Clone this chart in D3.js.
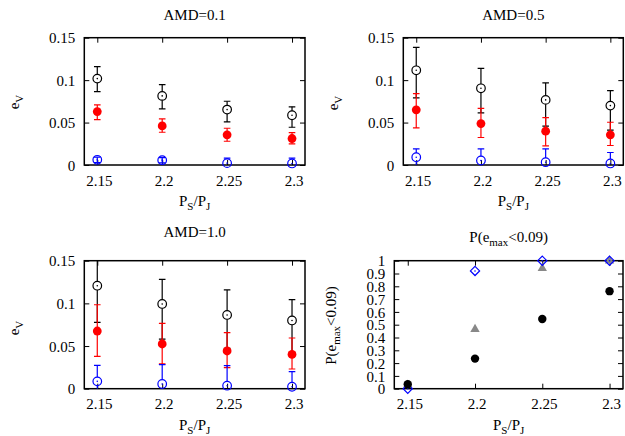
<!DOCTYPE html>
<html>
<head>
<meta charset="utf-8">
<script src="https://cdn.jsdelivr.net/npm/d3@7/dist/d3.min.js"></script>
<style>
  body { margin: 0; background: #fff; }
  svg, svg text { font-family: "Liberation Serif", "DejaVu Serif", serif !important; }
</style>
</head>
<body>
<div id="chart"></div>
<script>
// x categories (period ratio)
const psRatio = [2.15, 2.2, 2.25, 2.3];
const xTickLabels = ["2.15", "2.2", "2.25", "2.3"];
const eTicks = [0, 0.05, 0.1, 0.15];
const eTickLabels = ["0", "0.05", "0.1", "0.15"];
const pTicks = [0, 0.1, 0.2, 0.3, 0.4, 0.5, 0.6, 0.7, 0.8, 0.9, 1];
const pTickLabels = ["0", "0.1", "0.2", "0.3", "0.4", "0.5", "0.6", "0.7", "0.8", "0.9", "1"];

// [mean, low, high] for each ratio
const amd01Black = [[0.1018, 0.0865, 0.1159], [0.0814, 0.0661, 0.0947], [0.0653, 0.0508, 0.0751], [0.0586, 0.0445, 0.0685]];
const amd01Red   = [[0.0629, 0.0535, 0.0708], [0.0461, 0.0386, 0.0543], [0.0355, 0.0280, 0.0433], [0.0312, 0.0249, 0.0382]];
const amd01Blue  = [[0.0061, 0.0027, 0.0092], [0.0057, 0.0026, 0.0088], [0.0022, -0.0040, 0.0080], [0.0018, -0.0040, 0.0080]];

const amd05Black = [[0.1116, 0.0790, 0.1386], [0.0904, 0.0614, 0.1139], [0.0767, 0.0457, 0.0967], [0.0700, 0.0410, 0.0876]];
const amd05Red   = [[0.0650, 0.0437, 0.0841], [0.0488, 0.0324, 0.0668], [0.0398, 0.0226, 0.0559], [0.0355, 0.0230, 0.0504]];
const amd05Blue  = [[0.0092, -0.0006, 0.0190], [0.0053, -0.0080, 0.0190], [0.0033, -0.0120, 0.0190], [0.0018, -0.0110, 0.0147]];

const amd10Black = [[0.1207, 0.0777, 0.1640], [0.0993, 0.0582, 0.1280], [0.0864, 0.0473, 0.1157], [0.0800, 0.0422, 0.1043]];
const amd10Red   = [[0.0676, 0.0379, 0.0984], [0.0524, 0.0290, 0.0765], [0.0442, 0.0246, 0.0656], [0.0402, 0.0231, 0.0594]];
const amd10Blue  = [[0.0086, -0.0100, 0.0273], [0.0055, -0.0170, 0.0281], [0.0035, -0.0200, 0.0270], [0.0023, -0.0154, 0.0200]];

// probability panel
const probCircle   = [0.035, 0.235, 0.545, 0.762];
const probTriangle = [0.03, 0.465, 0.94, 1.0];
const probDiamond  = [0.0, 0.92, 1.0, 1.0];

const svg = d3.select("#chart").append("svg")
    .attr("width", 625)
    .attr("height", 436);

let clipId = 0;

function makePanel(box) {
    const x = d3.scaleLinear().domain([2.14, 2.31]).range([box.left, box.right]);
    const y = d3.scaleLinear().domain(box.yDomain).range([box.bottom, box.top]);
    const g = svg.append("g");

    const id = "clip" + (clipId++);
    svg.append("clipPath").attr("id", id)
        .append("rect")
        .attr("x", box.left).attr("y", box.top)
        .attr("width", box.right - box.left).attr("height", box.bottom - box.top);

    const tickFmt = (vals, labels) => (d) => labels[vals.indexOf(d)];

    // inward ticks on all four sides
    const left = g.append("g").attr("transform", "translate(" + box.left + ",0)")
        .call(d3.axisLeft(y).tickValues(box.yTicks).tickFormat(tickFmt(box.yTicks, box.yLabels)).tickSize(-5).tickPadding(9));
    g.append("g").attr("transform", "translate(" + box.right + ",0)")
        .call(d3.axisRight(y).tickValues(box.yTicks).tickFormat("").tickSize(-5));
    const bottom = g.append("g").attr("transform", "translate(0," + box.bottom + ")")
        .call(d3.axisBottom(x).tickValues(psRatio).tickFormat(tickFmt(psRatio, xTickLabels)).tickSize(-5).tickPadding(10));
    g.append("g").attr("transform", "translate(0," + box.top + ")")
        .call(d3.axisTop(x).tickValues(psRatio).tickFormat("").tickSize(-5));

    g.selectAll("g").attr("font-family", null).attr("font-size", null);
    g.selectAll(".domain").remove();
    g.selectAll(".tick line").attr("stroke", "#000").attr("stroke-width", 1);
    g.selectAll(".tick text").style("font-size", "15px").attr("fill", "#000");
    bottom.selectAll(".tick text").attr("dx", 1.5);
    left.selectAll(".tick text").attr("dy", "0.34em");

    g.append("rect")
        .attr("x", box.left).attr("y", box.top)
        .attr("width", box.right - box.left).attr("height", box.bottom - box.top)
        .attr("fill", "none").attr("stroke", "#000").attr("stroke-width", 1.5);

    const cx = (box.left + box.right) / 2;

    // x label  P_S/P_J
    const xl = g.append("text").attr("x", cx).attr("y", box.bottom + 41)
        .attr("text-anchor", "middle").attr("font-size", 15);
    xl.append("tspan").text("P");
    xl.append("tspan").text("S").attr("font-size", 11).attr("dy", 4);
    xl.append("tspan").text("/P").attr("dy", -4);
    xl.append("tspan").text("J").attr("font-size", 11).attr("dy", 4);

    return {g: g, x: x, y: y, clip: "url(#" + id + ")", cx: cx};
}

function ylabelE(p, lx, ly) {
    const t = p.g.append("text")
        .attr("transform", "translate(" + lx + "," + ly + ") rotate(-90)")
        .attr("text-anchor", "middle").attr("font-size", 15);
    t.append("tspan").text("e");
    t.append("tspan").text("V").attr("font-size", 11).attr("dy", 4);
}

function title(p, ty, txt) {
    p.g.append("text").attr("x", p.cx).attr("y", ty)
        .attr("text-anchor", "middle").attr("font-size", 15).text(txt);
}

function errSeries(p, data, color, filled) {
    const r = filled ? 4.4 : 4.3;
    const bars = p.g.append("g").attr("clip-path", p.clip)
        .attr("stroke", color).attr("stroke-width", 1.2);
    data.forEach(function(d, i) {
        const px = p.x(psRatio[i]);
        const cy = p.y(d[0]), yl = p.y(d[1]), yh = p.y(d[2]);
        if (filled) {
            bars.append("line").attr("x1", px).attr("x2", px).attr("y1", yl).attr("y2", yh);
        } else {
            // bar is hidden inside the open circle
            const up0 = (cy - yh > r) ? cy - r : cy;
            bars.append("line").attr("x1", px).attr("x2", px).attr("y1", up0).attr("y2", yh);
            const lo0 = (yl - cy > r) ? cy + r : cy;
            bars.append("line").attr("x1", px).attr("x2", px).attr("y1", lo0).attr("y2", yl);
        }
        [yl, yh].forEach(function(yy) {
            bars.append("line").attr("x1", px - 3.3).attr("x2", px + 3.3).attr("y1", yy).attr("y2", yy);
        });
    });
    p.g.selectAll(null).data(data).enter().append("circle")
        .attr("cx", (d, i) => p.x(psRatio[i]))
        .attr("cy", d => p.y(d[0]))
        .attr("r", r)
        .attr("fill", filled ? color : "none")
        .attr("stroke", color)
        .attr("stroke-width", filled ? 0 : 1.2);
    if (!filled) {
        p.g.selectAll(null).data(data).enter().append("circle")
            .attr("cx", (d, i) => p.x(psRatio[i]))
            .attr("cy", d => p.y(d[0]))
            .attr("r", 0.8)
            .attr("fill", color);
    }
}

// panel 1: AMD=0.1
const p1 = makePanel({left: 84.3, right: 305, top: 37.7, bottom: 165, yDomain: [0, 0.15], yTicks: eTicks, yLabels: eTickLabels});
title(p1, 20, "AMD=0.1");
ylabelE(p1, 18.5, 102);
errSeries(p1, amd01Black, "#000", false);
errSeries(p1, amd01Red, "#ff0000", true);
errSeries(p1, amd01Blue, "#0000ff", false);

// panel 2: AMD=0.5
const p2 = makePanel({left: 403.3, right: 623.3, top: 37.7, bottom: 165, yDomain: [0, 0.15], yTicks: eTicks, yLabels: eTickLabels});
title(p2, 20, "AMD=0.5");
ylabelE(p2, 337.5, 103);
errSeries(p2, amd05Black, "#000", false);
errSeries(p2, amd05Red, "#ff0000", true);
errSeries(p2, amd05Blue, "#0000ff", false);

// panel 3: AMD=1.0
const p3 = makePanel({left: 84.3, right: 305, top: 260.7, bottom: 388.7, yDomain: [0, 0.15], yTicks: eTicks, yLabels: eTickLabels});
title(p3, 237, "AMD=1.0");
ylabelE(p3, 18.5, 328);
errSeries(p3, amd10Black, "#000", false);
errSeries(p3, amd10Red, "#ff0000", true);
errSeries(p3, amd10Blue, "#0000ff", false);

// panel 4: probability
const p4 = makePanel({left: 394.3, right: 623, top: 260.7, bottom: 388.7, yDomain: [0, 1], yTicks: pTicks, yLabels: pTickLabels});
const t4 = p4.g.append("text").attr("x", p4.cx).attr("y", 242)
    .attr("text-anchor", "middle").attr("font-size", 15);
t4.append("tspan").text("P(e");
t4.append("tspan").text("max").attr("font-size", 11).attr("dy", 4);
t4.append("tspan").text("<0.09)").attr("dy", -4);

const yl4 = p4.g.append("text")
    .attr("transform", "translate(336,325.5) rotate(-90)")
    .attr("text-anchor", "middle").attr("font-size", 15);
yl4.append("tspan").text("P(e");
yl4.append("tspan").text("max").attr("font-size", 11).attr("dy", 4);
yl4.append("tspan").text("<0.09)").attr("dy", -4);

const tri = d3.symbol().type(d3.symbolTriangle).size(38);
p4.g.selectAll(null).data(probTriangle).enter().append("path")
    .attr("d", tri)
    .attr("transform", (d, i) => "translate(" + p4.x(psRatio[i]) + "," + p4.y(d) + ")")
    .attr("fill", "#888888");

p4.g.selectAll(null).data(probDiamond).enter().append("path")
    .attr("d", "M0,-4.6L4.6,0L0,4.6L-4.6,0Z")
    .attr("transform", (d, i) => "translate(" + p4.x(psRatio[i]) + "," + p4.y(d) + ")")
    .attr("fill", "none")
    .attr("stroke", "#0000ff")
    .attr("stroke-width", 1.2);
p4.g.selectAll(null).data(probDiamond).enter().append("circle")
    .attr("cx", (d, i) => p4.x(psRatio[i]))
    .attr("cy", d => p4.y(d))
    .attr("r", 0.8)
    .attr("fill", "#0000ff");

p4.g.selectAll(null).data(probCircle).enter().append("circle")
    .attr("cx", (d, i) => p4.x(psRatio[i]))
    .attr("cy", d => p4.y(d))
    .attr("r", 4.2)
    .attr("fill", "#000");
</script>
</body>
</html>
